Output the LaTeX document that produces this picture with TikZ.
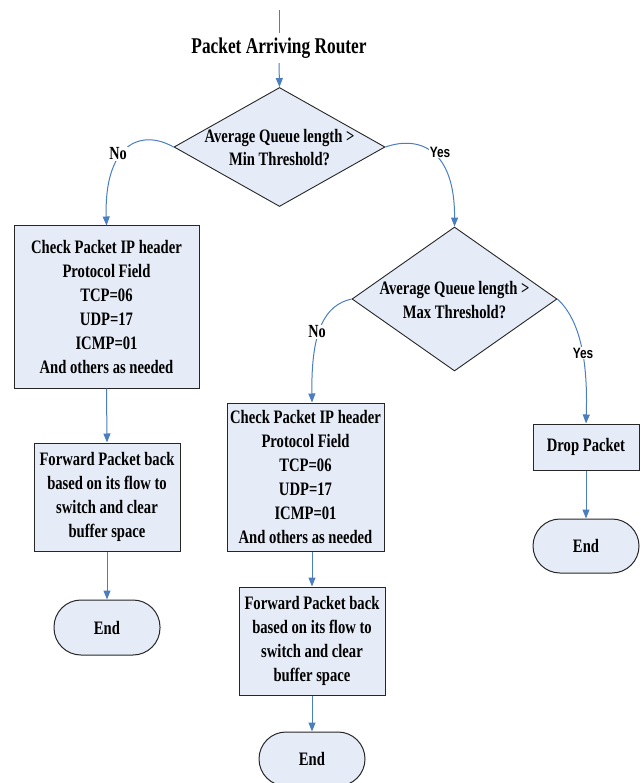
\documentclass[tikz,border=0pt]{standalone}
\usepackage{fontspec}
\newfontfamily\diagfont{Liberation Serif}[FakeStretch=0.77]
\newfontfamily\yesfont{Liberation Sans}[FakeStretch=0.79]
\usetikzlibrary{shapes.geometric,arrows.meta}
\definecolor{boxfill}{RGB}{230,236,247}
\definecolor{flow}{RGB}{74,126,190}
\begin{document}
\begin{tikzpicture}[x=1pt,y=-1pt,
  every node/.style={font=\diagfont\bfseries\fontsize{19}{24}\selectfont},
  procbox/.style={draw=black!85, line width=1pt, fill=boxfill, inner sep=0pt, align=center},
  decision/.style={diamond, draw=black!85, line width=0.9pt, fill=boxfill, inner sep=0pt},
  terminal/.style={draw=black!85, line width=1pt, fill=boxfill, rounded corners=27pt, inner sep=0pt},
  flowline/.style={draw=flow, line width=1pt},
  flowarrow/.style={flowline, -{Triangle[width=7pt,length=9pt]}},
  nolbl/.style={fill=white, inner sep=1pt, font=\diagfont\bfseries\fontsize{18.5}{20}\selectfont},
  yeslbl/.style={fill=white, inner sep=1pt, font=\yesfont\bfseries\fontsize{15}{17}\selectfont}]
\useasboundingbox (0,0) rectangle (644,783);

\coordinate (top) at (279,10);
\node[minimum height=30pt, inner sep=0pt, font=\diagfont\bfseries\fontsize{22.5}{26}\selectfont] (title) at (279,48) {Packet Arriving Router};

\node[decision, minimum width=211pt, minimum height=119pt] (d1) at (279.5,147) {};
\node[align=center, font=\diagfont\bfseries\fontsize{19}{23}\selectfont] (d1t) at (279.5,148) {Average Queue length >\\Min Threshold?};

\node[procbox, minimum width=185pt, minimum height=162pt] (b1) at (106.5,307) {Check Packet IP header\\Protocol Field\\TCP=06\\UDP=17\\ICMP=01\\And others as needed};
\node[procbox, minimum width=146pt, minimum height=108pt] (f1) at (107,497) {Forward Packet back\\based on its flow to\\switch and clear\\buffer space};
\node[terminal, minimum width=106pt, minimum height=55pt] (e1) at (107,627.5) {End};

\node[decision, minimum width=205pt, minimum height=144pt] (d2) at (454.5,299) {};
\node[align=center] (d2t) at (454.5,300) {Average Queue length >\\Max Threshold?};

\node[procbox, minimum width=157pt, minimum height=148pt] (b2) at (305.5,477) {Check Packet IP header\\Protocol Field\\TCP=06\\UDP=17\\ICMP=01\\And others as needed};
\node[procbox, minimum width=146pt, minimum height=108pt] (f2) at (312,641) {Forward Packet back\\based on its flow to\\switch and clear\\buffer space};
\node[terminal, minimum width=106pt, minimum height=54pt] (e2) at (312,759) {End};

\node[procbox, minimum width=106pt, minimum height=46pt] (drop) at (586,447) {Drop Packet};
\node[terminal, minimum width=106pt, minimum height=54pt] (e3) at (586,546) {End};

\draw[flowline] (top) -- (title.north);
\draw[flowarrow] (title.south) -- (d1.north);

\draw[flowarrow] (d1.west) .. controls (140,128) and (104,145) .. (b1.north);
\node[nolbl] (no1) at (118,154) {No};
\draw[flowarrow] (d1.east) .. controls (420,135) and (455,150) .. (d2.north);
\node[yeslbl] (yes1) at (440,152) {Yes};

\draw[flowarrow] (d2.west) .. controls (325,305) and (311,330) .. (b2.north -| f2.north);
\node[nolbl] (no2) at (317,332) {No};
\draw[flowarrow] (d2.east) .. controls (580,320) and (588,360) .. (drop.north);
\node[yeslbl] (yes2) at (583,353) {Yes};

\draw[flowarrow] (b1.south) -- (f1.north);
\draw[flowarrow] (f1.south) -- (e1.north);
\draw[flowarrow] (b2.south -| f2.north) -- (f2.north);
\draw[flowarrow] (f2.south) -- (e2.north);
\draw[flowarrow] (drop.south) -- (e3.north);
\end{tikzpicture}
\end{document}
